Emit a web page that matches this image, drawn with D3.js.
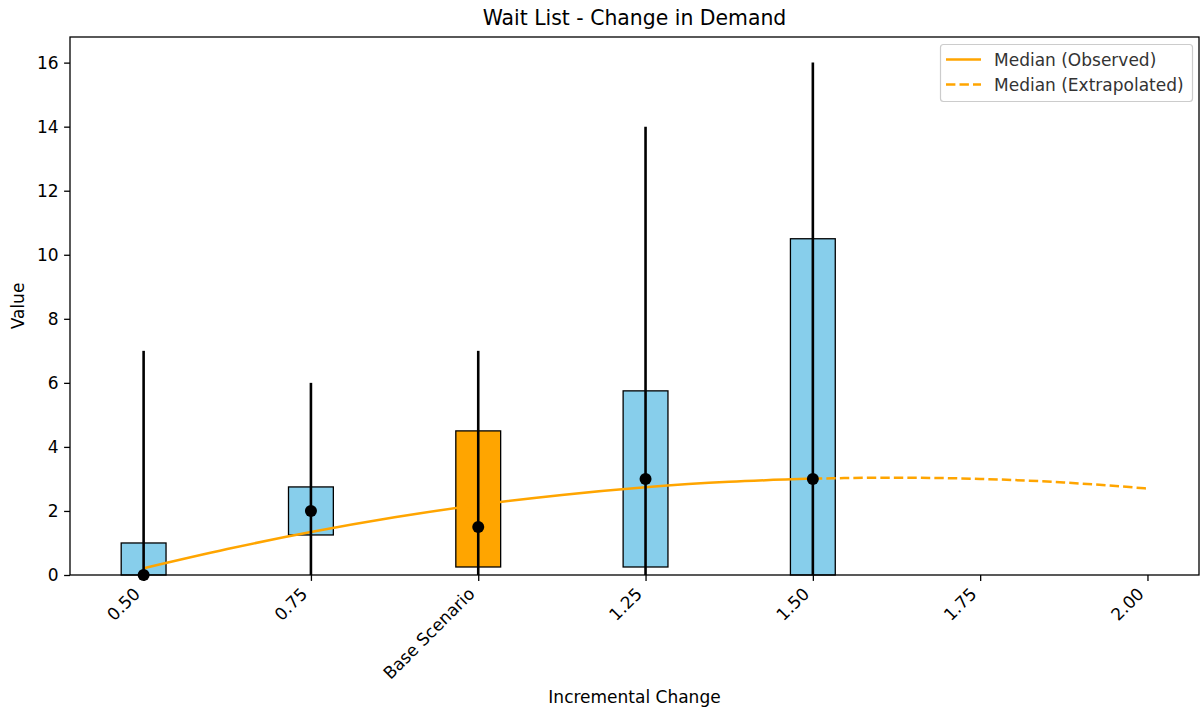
<!DOCTYPE html>
<html>
<head>
<meta charset="utf-8">
<script src="https://cdn.jsdelivr.net/npm/d3@7"></script>
<style>
  html, body { margin: 0; padding: 0; background: #fff; }
  svg { display: block; font-family: "DejaVu Sans", sans-serif; }
</style>
</head>
<body>
<svg id="chart" width="1202" height="711"></svg>
<script>
// Scenario positions and their labels
const scenarios = [0.5, 0.75, 1.0, 1.25, 1.5];
const tickValues = [0.5, 0.75, 1.0, 1.25, 1.5, 1.75, 2.0];
const tickLabels = ["0.50", "0.75", "Base Scenario", "1.25", "1.50", "1.75", "2.00"];

// Per-scenario distribution summary
const q1 = [0, 1.25, 0.25, 0.25, 0];
const q3 = [1, 2.75, 4.5, 5.75, 10.5];
const minVals = [0, 0, 0, 0, 0];
const maxVals = [7, 6, 7, 14, 16];
const medians = [0, 2, 1.5, 3, 3];
const isBase = [false, false, true, false, false];

// Median trend curve
const observedX = [0.5, 0.625, 0.75, 0.875, 1.0, 1.125, 1.25, 1.375, 1.5];
const observedY = [0.21, 0.81, 1.34, 1.80, 2.19, 2.50, 2.74, 2.91, 3.01];
const extrapX = [1.5, 1.625, 1.75, 1.875, 2.0];
const extrapY = [3.01, 3.04, 3.00, 2.89, 2.70];

const yTicks = [0, 2, 4, 6, 8, 10, 12, 14, 16];
const barWidth = 0.067;

const svg = d3.select("#chart");
const plot = { left: 70, top: 37, right: 1199, bottom: 575 };

const x = d3.scaleLinear().domain([0.39, 2.077]).range([plot.left, plot.right]);
const y = d3.scaleLinear().domain([0, 16.8]).range([plot.bottom, plot.top]);

const FONT = 17;
const TITLE_FONT = 20.4;
const TICK_LEN = 5.9;
const DASH = "9.4,4.1";

// Boxes (interquartile range)
const g = svg.append("g");
g.selectAll("rect.box")
  .data(scenarios)
  .enter().append("rect")
  .attr("class", "box")
  .attr("x", (d) => x(d - barWidth / 2))
  .attr("width", (d) => x(d + barWidth / 2) - x(d - barWidth / 2))
  .attr("y", (d, i) => y(q3[i]))
  .attr("height", (d, i) => y(q1[i]) - y(q3[i]))
  .attr("fill", (d, i) => isBase[i] ? "#FFA500" : "#87CEEB")
  .attr("stroke", "#000")
  .attr("stroke-width", 1.3);

// Median trend lines
const line = d3.line().x((d) => x(d[0])).y((d) => y(d[1])).curve(d3.curveNatural);
g.append("path")
  .datum(observedX.map((v, i) => [v, observedY[i]]))
  .attr("d", line)
  .attr("fill", "none")
  .attr("stroke", "#FFA500")
  .attr("stroke-width", 2.5);
g.append("path")
  .datum(extrapX.map((v, i) => [v, extrapY[i]]))
  .attr("d", line)
  .attr("fill", "none")
  .attr("stroke", "#FFA500")
  .attr("stroke-width", 2.5)
  .attr("stroke-dasharray", DASH);

// Whiskers (min to max)
g.selectAll("line.whisker")
  .data(scenarios)
  .enter().append("line")
  .attr("class", "whisker")
  .attr("x1", (d) => x(d)).attr("x2", (d) => x(d))
  .attr("y1", (d, i) => y(minVals[i]))
  .attr("y2", (d, i) => y(maxVals[i]))
  .attr("stroke", "#000")
  .attr("stroke-width", 2.6);

// Median markers
g.selectAll("circle.median")
  .data(scenarios)
  .enter().append("circle")
  .attr("class", "median")
  .attr("cx", (d) => x(d))
  .attr("cy", (d, i) => y(medians[i]))
  .attr("r", 6)
  .attr("fill", "#000");

// Frame
svg.append("rect")
  .attr("x", plot.left).attr("y", plot.top)
  .attr("width", plot.right - plot.left).attr("height", plot.bottom - plot.top)
  .attr("fill", "none").attr("stroke", "#000").attr("stroke-width", 1.3);

// Y axis
const yAxis = svg.append("g")
  .attr("transform", `translate(${plot.left},0)`)
  .call(d3.axisLeft(y).tickValues(yTicks).tickSize(TICK_LEN).tickPadding(5.5).tickFormat(d3.format("d")));
yAxis.select(".domain").remove();
yAxis.selectAll(".tick line").attr("stroke", "#000").attr("stroke-width", 1.3);
yAxis.selectAll(".tick text").attr("font-size", FONT).attr("fill", "#000")
  .attr("font-family", "DejaVu Sans");

// X axis with rotated labels
const xAxis = svg.append("g")
  .attr("transform", `translate(0,${plot.bottom})`)
  .call(d3.axisBottom(x).tickValues(tickValues).tickSize(TICK_LEN)
    .tickFormat((d, i) => tickLabels[i]));
xAxis.select(".domain").remove();
xAxis.selectAll(".tick line").attr("stroke", "#000").attr("stroke-width", 1.3);
xAxis.selectAll(".tick text")
  .attr("font-size", FONT).attr("fill", "#000").attr("font-family", "DejaVu Sans")
  .attr("text-anchor", "end")
  .attr("dy", null)
  .attr("y", 0)
  .attr("transform", "translate(-3,20) rotate(-45)");

// Title and axis labels
svg.append("text")
  .attr("x", (plot.left + plot.right) / 2).attr("y", 25)
  .attr("text-anchor", "middle").attr("font-size", TITLE_FONT).attr("fill", "#000")
  .text("Wait List - Change in Demand");
svg.append("text")
  .attr("x", (plot.left + plot.right) / 2).attr("y", 703)
  .attr("text-anchor", "middle").attr("font-size", FONT).attr("fill", "#000")
  .text("Incremental Change");
svg.append("text")
  .attr("transform", `translate(24,${(plot.top + plot.bottom) / 2}) rotate(-90)`)
  .attr("text-anchor", "middle").attr("font-size", FONT).attr("fill", "#000")
  .text("Value");

// Legend
const legend = svg.append("g");
legend.append("rect")
  .attr("x", 940.5).attr("y", 44.5).attr("width", 252).attr("height", 57)
  .attr("rx", 3).attr("fill", "#fff").attr("fill-opacity", 0.8)
  .attr("stroke", "#ccc").attr("stroke-width", 1.2);
const legendItems = [
  { label: "Median (Observed)", dash: null },
  { label: "Median (Extrapolated)", dash: DASH }
];
legendItems.forEach((item, i) => {
  const cy = 59.5 + i * 25;
  legend.append("line")
    .attr("x1", 946).attr("x2", 981).attr("y1", cy).attr("y2", cy)
    .attr("stroke", "#FFA500").attr("stroke-width", 2.5)
    .attr("stroke-dasharray", item.dash);
  legend.append("text")
    .attr("x", 994).attr("y", cy + 6)
    .attr("font-size", FONT).attr("fill", "#333")
    .text(item.label);
});
</script>
</body>
</html>
